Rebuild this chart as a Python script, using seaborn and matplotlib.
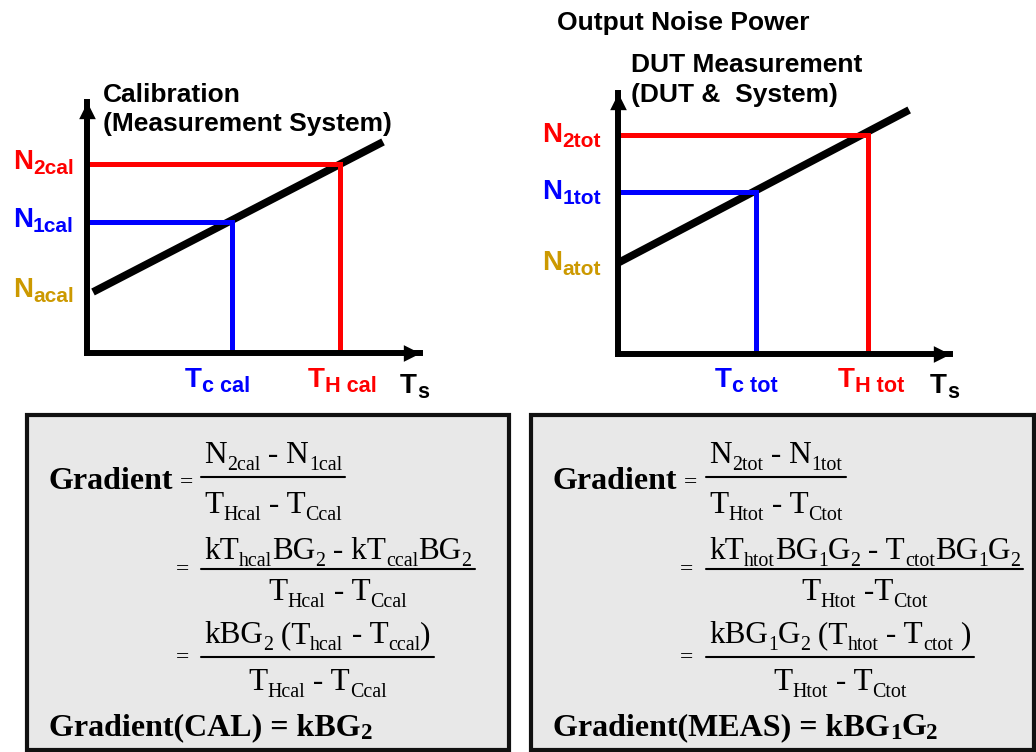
import re
import matplotlib
matplotlib.use("Agg")
import matplotlib.pyplot as plt
from matplotlib.patches import Rectangle
from matplotlib.font_manager import FontProperties
import seaborn as sns

# --- values (axis units 0..10, origin -> arrow tip) ---
# calibration (measurement system)
cal_ts_line = [0.18, 8.89]
cal_n_line = [2.43, 8.41]
cal_tc, cal_th = 4.35, 7.60
cal_n1, cal_n2, cal_na = 5.22, 7.53, 2.43

# DUT measurement (DUT & system)
tot_ts_line = [0.00, 8.77]
tot_n_line = [3.49, 9.35]
tot_tc, tot_th = 4.16, 7.53
tot_n1, tot_n2, tot_na = 6.21, 8.39, 3.49

# "_{...}" marks a subscript
cal_tags = ["N_{2cal}", "N_{1cal}", "N_{acal}", "T_{c cal}", "T_{H cal}"]
tot_tags = ["N_{2tot}", "N_{1tot}", "N_{atot}", "T_{c tot}", "T_{H tot}"]

cal_rows = [
    ("N_{2cal} - N_{1cal}", "T_{Hcal} - T_{Ccal}"),
    ("kT_{hcal}BG_{2} - kT_{ccal}BG_{2}", "T_{Hcal} - T_{Ccal}"),
    ("kBG_{2} (T_{hcal} - T_{ccal})", "T_{Hcal} - T_{Ccal}"),
]
cal_result = "Gradient(CAL) = kBG_{2}"

tot_rows = [
    ("N_{2tot} - N_{1tot}", "T_{Htot} - T_{Ctot}"),
    ("kT_{htot}BG_{1}G_{2} - T_{ctot}BG_{1}G_{2}", "T_{Htot} -T_{Ctot}"),
    ("kBG_{1}G_{2} (T_{htot} - T_{ctot} )", "T_{Htot} - T_{Ctot}"),
]
tot_result = "Gradient(MEAS) = kBG_{1}G_{2}"

RED, BLUE, GOLD = "#ff0000", "#0000ff", "#cc9900"
BOX_FILL = "#e8e8e8"
SANS = ["Liberation Sans", "DejaVu Sans"]
SERIF = ["Liberation Serif", "DejaVu Serif"]

sns.set_style("white")
plt.rcParams["font.family"] = SANS
plt.rcParams["text.color"] = "black"

UP = [(0, 0), (-0.5, -1), (0.5, -1), (0, 0)]
RIGHT = [(0, 0), (-1, 0.5), (-1, -0.5), (0, 0)]

fig = plt.figure(figsize=(10.36, 7.52), dpi=100)
H = 752

# overlay in pixel coordinates (y down) for the boxes and free text
ov = fig.add_axes([0, 0, 1, 1])
ov.set_xlim(0, 1036)
ov.set_ylim(H, 0)
ov.axis("off")
renderer = fig.canvas.get_renderer()


def advance(s, prop):
    w1 = renderer.get_text_width_height_descent("|" + s + "|", prop, ismath=False)[0]
    w0 = renderer.get_text_width_height_descent("||", prop, ismath=False)[0]
    return w1 - w0


def rich(x, y, markup, size, family, weight="bold", color="black",
         sub_scale=0.75, drop=5, ha="left", measure_only=False):
    """Draw text with _{...} subscripts at baseline y (pixels, y down)."""
    bits = re.split(r"_\{([^}]*)\}", markup)
    main = FontProperties(family=family, weight=weight, size=size)
    sub = FontProperties(family=family, weight=weight, size=size * sub_scale)
    parts = [(t, i % 2 == 1) for i, t in enumerate(bits) if t]
    widths = [advance(t, sub if s else main) for t, s in parts]
    total = sum(widths)
    if measure_only:
        return total
    x0 = {"left": x, "center": x - total / 2, "right": x - total}[ha]
    for (t, s), w in zip(parts, widths):
        ov.text(x0, y + (drop if s else 0), t, fontproperties=sub if s else main,
                color=color, ha="left", va="baseline")
        x0 += w
    return total


def to_px(ax, x, y):
    dx, dy = ax.transData.transform((x, y))
    return dx, H - dy


def draw_chart(ax, ts_line, n_line, tc, th, n1, n2, na, tags, n_gap, n_drop, t_dx, t_drop):
    ax.set_facecolor("none")
    sns.lineplot(x=ts_line, y=n_line, color="black", lw=5.5, ax=ax,
                 sort=False, estimator=None, legend=False, solid_capstyle="butt")
    sns.lineplot(x=[0, th, th], y=[n2, n2, 0], color=RED, lw=3.6, ax=ax,
                 sort=False, estimator=None, legend=False, solid_joinstyle="miter")
    sns.lineplot(x=[0, tc, tc], y=[n1, n1, 0], color=BLUE, lw=3.6, ax=ax,
                 sort=False, estimator=None, legend=False, solid_joinstyle="miter")
    ax.set(xlim=(0, 10), ylim=(0, 10), xticks=[], yticks=[], xlabel="", ylabel="")
    sns.despine(ax=ax)
    for side in ("left", "bottom"):
        ax.spines[side].set_linewidth(4.3)
        ax.spines[side].set_color("black")
    ax.plot(0, 1, transform=ax.transAxes, marker=UP, ms=24, color="black", mew=0, clip_on=False)
    ax.plot(1, 0, transform=ax.transAxes, marker=RIGHT, ms=24, color="black", mew=0, clip_on=False)

    for txt, yv, col in zip(tags[:3], (n2, n1, na), (RED, BLUE, GOLD)):
        px, py = to_px(ax, 0, yv)
        rich(px - n_gap, py + n_drop, txt, 20, SANS, color=col, ha="right")
    for txt, xv, col, dx in zip(tags[3:], (tc, th), (BLUE, RED), t_dx):
        px, py = to_px(ax, xv, 0)
        rich(px + dx, py + t_drop, txt, 20, SANS, color=col, sub_scale=0.78)
    px, py = to_px(ax, 10, 0)
    rich(px - 20, py + t_drop + 6, "T_{s}", 20, SANS, sub_scale=0.78)


ax1 = fig.add_axes([87 / 1036, (H - 353) / H, 333 / 1036, 251 / H])
draw_chart(ax1, cal_ts_line, cal_n_line, cal_tc, cal_th, cal_n1, cal_n2, cal_na,
           cal_tags, 13, 5, (-47, -32), 34)
ax2 = fig.add_axes([618 / 1036, (H - 354) / H, 332 / 1036, 261 / H])
draw_chart(ax2, tot_ts_line, tot_n_line, tot_tc, tot_th, tot_n1, tot_n2, tot_na,
           tot_tags, 17, 7, (-41, -30), 33)

title = dict(fontsize=19, fontweight="bold", va="baseline", ha="left", color="black")
ov.text(103, 102, "Calibration", **title)
ov.text(103, 131, "(Measurement System)", **title)
ov.text(557, 30, "Output Noise Power", **title)
ov.text(631, 72, "DUT Measurement", **title)
ov.text(631, 102, "(DUT &  System)", **title)

# formula boxes
for x0, x1 in ((27, 509), (531, 1034)):
    ov.add_patch(Rectangle((x0, 415), x1 - x0, 335, facecolor=BOX_FILL,
                           edgecolor="#111111", lw=3, zorder=0))

FORM = dict(family=SERIF, weight="normal", sub_scale=0.64, drop=7)


def formula_box(gx, eq_x, rule_x, rows, result):
    ov.text(gx, 489, "Gradient", fontsize=23, fontweight="bold", family=SERIF,
            ha="left", va="baseline")
    ov.text(gx + 131, 488, "=", fontsize=17, family=SERIF, ha="left", va="baseline")
    layout = [(477, 463, 513), (569, 559, 600), (657, 643, 690)]
    for i, ((num, den), (ry, nb, db)) in enumerate(zip(rows, layout)):
        if i > 0:
            ov.text(eq_x, ry + 6, "=", fontsize=17, family=SERIF, ha="left", va="baseline")
        w = max(rich(0, 0, t, 22.5, measure_only=True, **FORM) for t in (num, den)) + 6
        xc = rule_x + w / 2
        rich(xc, nb, num, 22.5, ha="center", **FORM)
        rich(xc, db, den, 22.5, ha="center", **FORM)
        ov.plot([rule_x, rule_x + w], [ry, ry], color="black", lw=1.5)
    rich(gx, 735, result, 23, SERIF, weight="bold", sub_scale=0.72, drop=4)


formula_box(49, 176, 201, cal_rows, cal_result)
formula_box(553, 680, 706, tot_rows, tot_result)

fig.savefig("out.png", dpi=100)
plt.close(fig)
